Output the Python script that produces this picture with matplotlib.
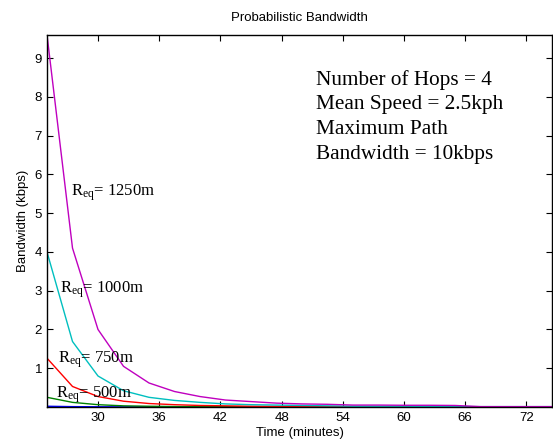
import matplotlib
matplotlib.use("Agg")
import matplotlib.pyplot as plt
import numpy as np

plt.rcParams['mathtext.fontset'] = 'custom'
plt.rcParams['mathtext.rm'] = 'Liberation Serif'
plt.rcParams['mathtext.it'] = 'Liberation Serif:italic'

# time axis (minutes), one sample every 2.5 min
time = np.arange(25, 75.1, 2.5)

# bandwidth (kbps) for each equivalent radius
bw_1250 = [9.6, 4.1, 2.0, 1.05, 0.62, 0.40, 0.27, 0.18, 0.14, 0.10, 0.08,
           0.07, 0.05, 0.05, 0.045, 0.045, 0.04, 0.01, 0.01, 0.01, 0.01]
bw_1000 = [4.0, 1.69, 0.80, 0.42, 0.25, 0.17, 0.12, 0.08, 0.06, 0.05, 0.04,
           0.03, 0.02, 0.02, 0.02, 0.015, 0.015, 0.01, 0.01, 0.01, 0.01]
bw_750 = [1.26, 0.53, 0.27, 0.15, 0.09, 0.06, 0.04, 0.03, 0.02, 0.015, 0.012,
          0.01, 0.01, 0.008, 0.008, 0.006, 0.006, 0.005, 0.005, 0.005, 0.005]
bw_500 = [0.25, 0.12, 0.06, 0.03, 0.02, 0.012, 0.01, 0.008, 0.006, 0.005, 0.004,
          0.004, 0.003, 0.003, 0.003, 0.003, 0.002, 0.002, 0.002, 0.002, 0.002]
bw_250 = [0.02, 0.01, 0.006, 0.004, 0.003, 0.002, 0.002, 0.001, 0.001, 0.001, 0.001,
          0.001, 0.001, 0.001, 0.001, 0.001, 0.001, 0.001, 0.001, 0.001, 0.001]

x_ticks = [30, 36, 42, 48, 54, 60, 66, 72]
y_ticks = [1, 2, 3, 4, 5, 6, 7, 8, 9]

fig = plt.figure(figsize=(5.53, 4.44), dpi=100)
ax = fig.add_axes([0.085, 0.0833, 0.913, 0.838])

ax.plot(time, bw_250, color=(0, 0, 1), lw=1.0)
ax.plot(time, bw_500, color=(0, 0.5, 0), lw=1.0)
ax.plot(time, bw_750, color=(1, 0, 0), lw=1.0)
ax.plot(time, bw_1000, color=(0, 0.75, 0.75), lw=1.0)
ax.plot(time, bw_1250, color=(0.75, 0, 0.75), lw=1.0)

ax.set_xlim(25, 74.5)
ax.set_ylim(0, 9.6)
ax.set_xticks(x_ticks)
ax.set_yticks(y_ticks)
ax.tick_params(direction='in', top=True, right=True, length=4, width=0.8,
               labelsize=9.5)
for lab in ax.get_xticklabels() + ax.get_yticklabels():
    lab.set_family('Liberation Sans')
for s in ax.spines.values():
    s.set_linewidth(1.0)

ax.set_title('Probabilistic Bandwidth', fontsize=9.5, family='Liberation Sans', pad=10)
ax.set_xlabel('Time (minutes)', fontsize=9.5, family='Liberation Sans', labelpad=2)
ax.set_ylabel('Bandwidth (kbps)', fontsize=9.5, family='Liberation Sans', labelpad=4)

serif = 'Liberation Serif'
ax.text(27.4, 5.54, r'R$_{\mathrm{eq}}$= 1250m', fontsize=12, family=serif, va='center')
ax.text(26.25, 3.03, r'R$_{\mathrm{eq}}$= 1000m', fontsize=12, family=serif, va='center')
ax.text(26.1, 1.22, r'R$_{\mathrm{eq}}$= 750m', fontsize=12, family=serif, va='center')
ax.text(25.9, 0.31, r'R$_{\mathrm{eq}}$= 500m', fontsize=12, family=serif, va='center')

ax.text(51.4, 8.7, 'Number of Hops = 4\nMean Speed = 2.5kph\nMaximum Path\nBandwidth = 10kbps',
        fontsize=15.3, family=serif, va='top', linespacing=1.4)

fig.savefig('out.png', dpi=100)
